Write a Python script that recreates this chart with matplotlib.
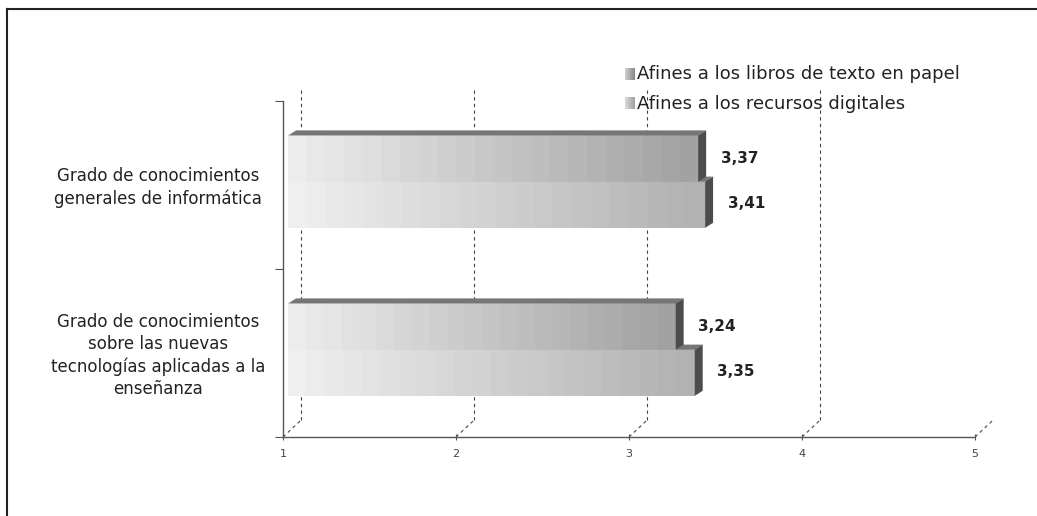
import numpy as np
import matplotlib
matplotlib.use('Agg')
import matplotlib.pyplot as plt
from matplotlib.colors import LinearSegmentedColormap
from matplotlib.lines import Line2D
from matplotlib.patches import Polygon

plt.rcParams['font.family'] = ['DejaVu Sans']

categories = ['Grado de conocimientos\ngenerales de informática',
              'Grado de conocimientos\nsobre las nuevas\ntecnologías aplicadas a la\nenseñanza']
series = ['Afines a los libros de texto en papel', 'Afines a los recursos digitales']
libros = [3.37, 3.24]
recursos = [3.41, 3.35]
value_labels_libros = ['3,37', '3,24']
value_labels_recursos = ['3,41', '3,35']
xticks = [1, 2, 3, 4, 5]

W, H = 1037, 516
fig = plt.figure(figsize=(W / 100, H / 100), dpi=100)
ax = fig.add_axes([283 / W, (H - 437) / H, 692 / W, 336 / H])
ax.set_xlim(1, 5)
ax.set_ylim(0, 2)

# 3d look
dx, dy = 0.046, 0.03
h = 0.275
cmap_lib = LinearSegmentedColormap.from_list('lib', ['#ececec', '#a2a2a2'])
cmap_rec = LinearSegmentedColormap.from_list('rec', ['#efefef', '#b2b2b2'])
leg_lib = LinearSegmentedColormap.from_list('llib', ['#d0d0d0', '#888888'])
leg_rec = LinearSegmentedColormap.from_list('lrec', ['#dadada', '#a0a0a0'])
grad = np.linspace(0, 1, 22).reshape(1, -1)

# group centres: top = informática, bottom = enseñanza
groups = [1.5, 0.5]


def bar3d(y0, value, cmap, z):
    x0 = 1.03
    x1 = value + 0.03
    y1 = y0 + h
    ax.imshow(grad, extent=[x0, x1, y0, y1], aspect='auto', cmap=cmap,
              interpolation='nearest', zorder=z)
    top = Polygon([(x0, y1), (x0 + dx, y1 + dy), (x1 + dx, y1 + dy), (x1, y1)],
                  closed=True, fc='#767676', ec='none', zorder=z)
    side = Polygon([(x1, y0), (x1 + dx, y0 + dy), (x1 + dx, y1 + dy), (x1, y1)],
                   closed=True, fc='#4c4c4c', ec='none', zorder=z)
    ax.add_patch(top)
    ax.add_patch(side)


for i, g in enumerate(groups):
    bar3d(g - 0.255, recursos[i], cmap_rec, 3)
    bar3d(g + 0.02, libros[i], cmap_lib, 4)
    ax.text(libros[i] + 0.16, g + 0.16, value_labels_libros[i], fontsize=11,
            fontweight='bold', color='#222222', va='center', ha='left')
    ax.text(recursos[i] + 0.16, g - 0.11, value_labels_recursos[i], fontsize=11,
            fontweight='bold', color='#222222', va='center', ha='left')
    ax.text(0.277, g - 0.015, categories[i], fontsize=12, ha='center',
            va='center', color='#222222', linespacing=1.3)

# dashed 3d gridlines
for t in xticks:
    if t < 5:
        ax.plot([t + 0.104, t + 0.104], [0.1, 2.08], ls=(0, (3, 3)), lw=0.8,
                color='#444444', clip_on=False, zorder=1)
    ax.plot([t, t + 0.104], [0, 0.1], ls=(0, (3, 3)), lw=0.8,
            color='#444444', clip_on=False, zorder=1)

ax.set_xticks(xticks)
ax.set_xticklabels([str(t) for t in xticks], fontsize=8, color='#444444')
ax.set_yticks([0, 1, 2])
ax.set_yticklabels([])
ax.tick_params(axis='x', direction='inout', length=5, width=0.8, color='#555555', pad=6)
ax.tick_params(axis='y', direction='out', length=6, width=0.8, color='#555555')
for s in ['top', 'right']:
    ax.spines[s].set_visible(False)
for s in ['left', 'bottom']:
    ax.spines[s].set_color('#555555')
    ax.spines[s].set_linewidth(1)

# legend
leg_cmaps = [leg_lib, leg_rec]
leg_y = [2.158, 1.985]
for name, cm, yy in zip(series, leg_cmaps, leg_y):
    ax.imshow(grad, extent=[2.977, 3.03, yy - 0.033, yy + 0.033], aspect='auto',
              cmap=cm, interpolation='nearest', clip_on=False, zorder=5)
    ax.text(3.046, yy, name, fontsize=13, va='center', ha='left', color='#222222')

ax.set_xlim(1, 5)
ax.set_ylim(0, 2)

# frame lines of the original picture
fig.add_artist(Line2D([7 / W, 1], [1 - 9 / H, 1 - 9 / H], transform=fig.transFigure,
                      color='#222222', lw=1.5))
fig.add_artist(Line2D([7 / W, 7 / W], [0, 1 - 9 / H], transform=fig.transFigure,
                      color='#222222', lw=1.5))

fig.savefig('out.png', dpi=100)
